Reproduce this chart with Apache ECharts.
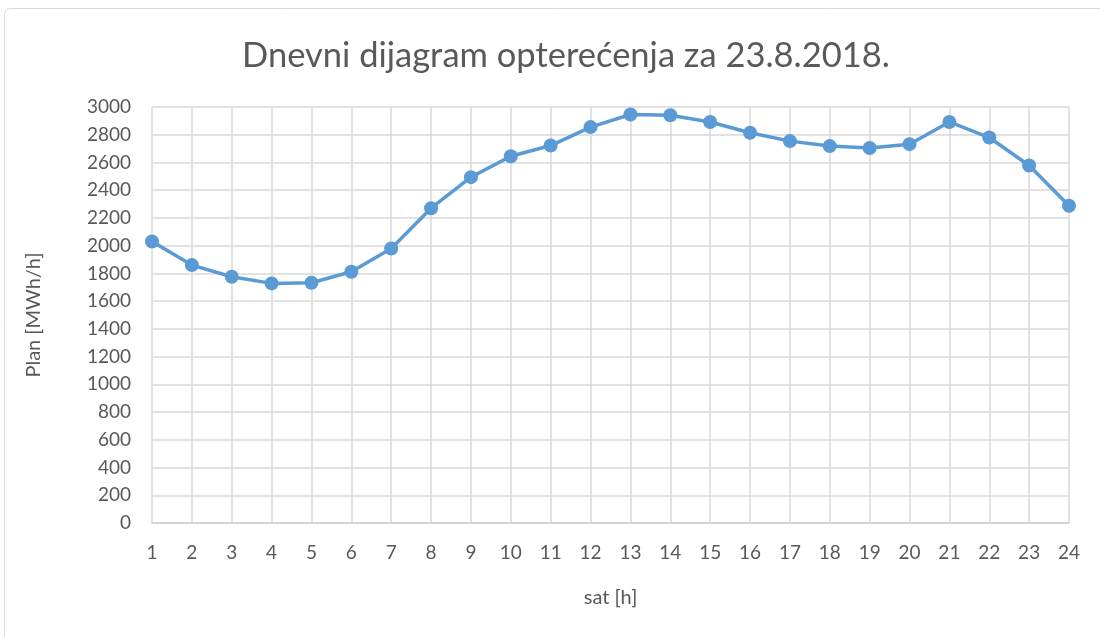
<!DOCTYPE html>
<html>
<head>
<meta charset="utf-8">
<script src="https://cdn.jsdelivr.net/npm/echarts@6/dist/echarts.min.js"></script>
<style>
  html, body { margin: 0; padding: 0; background: #fff; }
  #chart { width: 1100px; height: 637px; }
</style>
</head>
<body>
<div id="chart"></div>
<script>
var hours = ["1","2","3","4","5","6","7","8","9","10","11","12","13","14","15","16","17","18","19","20","21","22","23","24"];
var plan = [2030, 1860, 1776, 1728, 1733, 1812, 1980, 2270, 2494, 2645, 2722, 2855, 2946, 2940, 2892, 2814, 2754, 2718, 2704, 2732, 2892, 2780, 2578, 2288];

var font = "Lato";
var textColor = "#595959";

var myChart = echarts.init(document.getElementById("chart"));
var option = {
  animation: false,
  graphic: [
    {
      type: "rect",
      shape: { x: 4.5, y: 8.5, width: 1110, height: 640, r: 6 },
      style: { fill: "none", stroke: "#d9d9d9", lineWidth: 1 },
      silent: true
    }
  ],
  title: {
    text: "Dnevni dijagram opterećenja za 23.8.2018.",
    left: 237,
    top: 33,
    textStyle: { fontFamily: font, fontSize: 34.5, fontWeight: "normal", color: textColor }
  },
  grid: { left: 152, right: 31, top: 107, bottom: 114 },
  xAxis: {
    type: "category",
    data: hours,
    boundaryGap: false,
    name: "sat [h]",
    nameLocation: "middle",
    nameGap: 65,
    nameTextStyle: { fontFamily: font, fontSize: 20, color: textColor },
    axisLine: { lineStyle: { color: "#d0d0d0", width: 1.5 } },
    axisTick: { show: false },
    axisLabel: { fontFamily: font, fontSize: 19, color: textColor, margin: 20 },
    splitLine: { show: true, lineStyle: { color: "#d9d9d9", width: 1.5 } }
  },
  yAxis: {
    type: "value",
    min: 0,
    max: 3000,
    interval: 200,
    name: "Plan [MWh/h]",
    nameLocation: "middle",
    nameGap: 108,
    nameTextStyle: { fontFamily: font, fontSize: 20, color: textColor },
    axisLine: { show: false },
    axisTick: { show: false },
    axisLabel: {
      fontFamily: font, fontSize: 19, color: textColor, margin: 21,
      formatter: function (v) { return String(v); }
    },
    splitLine: { lineStyle: { color: "#d9d9d9", width: 1.5 } }
  },
  series: [
    {
      name: "Plan",
      type: "line",
      data: plan,
      symbol: "circle",
      symbolSize: 14,
      lineStyle: { color: "#5b9bd5", width: 3.5 },
      itemStyle: { color: "#5b9bd5" }
    }
  ]
};
myChart.setOption(option);
</script>
</body>
</html>
